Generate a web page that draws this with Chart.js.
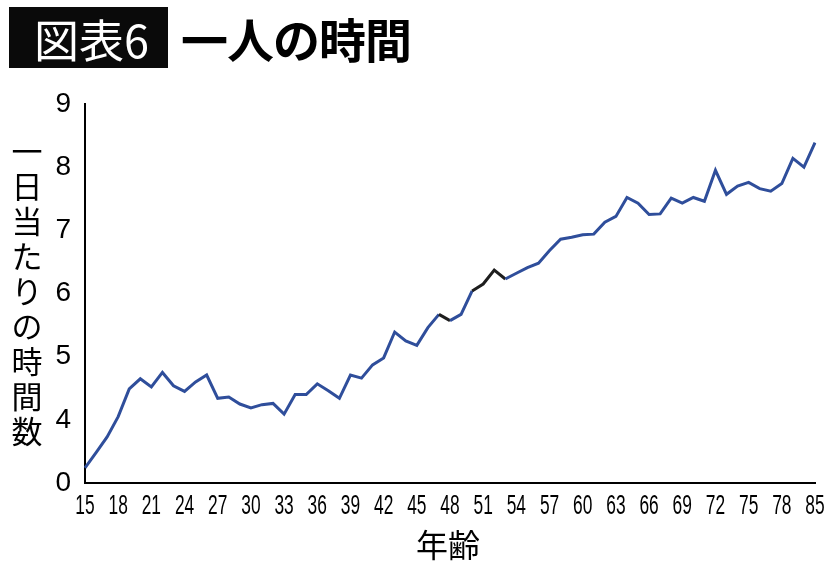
<!DOCTYPE html>
<html>
<head>
<meta charset="utf-8">
<script src="https://cdn.jsdelivr.net/npm/chart.js@4/dist/chart.umd.min.js"></script>
<style>
  html, body { margin: 0; padding: 0; background: #fff; }
  #wrap { position: relative; width: 836px; height: 564px; overflow: hidden; }
  canvas { position: absolute; left: 0; top: 0; }
  .lbl { position: absolute; font-family: "Noto Sans CJK JP", sans-serif; color: #000; white-space: nowrap; }
  #badge { left: 9px; top: 7px; width: 159px; height: 61px; background: #0a0a0a; color: #fff;
           font-size: 45px; line-height: 63px; text-align: left; padding-left: 25px; box-sizing: border-box; }
  #title { left: 181px; top: 7px; font-size: 47px; font-weight: 700; line-height: 61px; letter-spacing: -1px; }
  #ytitle { left: 9px; top: 132px; width: 36px; font-size: 31px; line-height: 35px; text-align: center; }
  #xtitle { left: 416px; top: 524px; font-size: 32px; line-height: 38px; }
</style>
</head>
<body>
<div id="wrap">
  <canvas id="c" width="836" height="564"></canvas>
  <div class="lbl" id="badge">図表6</div>
  <div class="lbl" id="title">一人の時間</div>
  <div class="lbl" id="ytitle">一<br>日<br>当<br>た<br>り<br>の<br>時<br>間<br>数</div>
  <div class="lbl" id="xtitle">年齢</div>
</div>
<script>
// Age categories (last bucket labelled 85 as in the source)
const ages = [15,16,17,18,19,20,21,22,23,24,25,26,27,28,29,30,31,32,33,34,35,36,37,38,39,40,
              41,42,43,44,45,46,47,48,49,50,51,52,53,54,55,56,57,58,59,60,61,62,63,64,65,66,
              67,68,69,70,71,72,73,74,75,76,77,78,79,80,85];
// Hours per day alone (axis is broken below 4)
const hours = [3.24,3.48,3.73,4.05,4.49,4.65,4.52,4.75,4.54,4.45,4.60,4.71,4.34,4.36,4.25,4.19,
               4.24,4.26,4.09,4.40,4.40,4.57,4.46,4.34,4.71,4.66,4.87,4.98,5.39,5.25,5.18,5.46,
               5.67,5.57,5.67,6.04,6.15,6.37,6.23,6.32,6.41,6.48,6.68,6.86,6.89,6.93,6.94,7.13,
               7.22,7.52,7.43,7.25,7.26,7.51,7.43,7.52,7.46,7.95,7.57,7.70,7.76,7.66,7.62,7.74,
               8.14,8.00,8.39];
// Y tick values and their printed labels (axis break: bottom tick printed as 0)
const yTickValues = [3,4,5,6,7,8,9];
const yTickLabels = ['0','4','5','6','7','8','9'];
const xTickEvery = 3;

const BLUE = '#2f4e9b';
const DARK = '#1e1e1e';
const darkSegmentStarts = [32, 35, 36, 37];

// Condensed x tick labels, placed by the category scale
const condensedXTicks = {
  id: 'condensedXTicks',
  afterDraw(chart) {
    const xs = chart.scales.x;
    const ctx = chart.ctx;
    ctx.save();
    ctx.font = '28px "Liberation Sans", Arial, sans-serif';
    ctx.fillStyle = '#000';
    ctx.textAlign = 'center';
    ctx.textBaseline = 'middle';
    ages.forEach((a, i) => {
      if (i % xTickEvery !== 0) return;
      const px = xs.getPixelForTick(i);
      ctx.save();
      ctx.translate(px, xs.top + 23);
      ctx.scale(0.62, 1);
      ctx.fillText(String(a), 0, 0);
      ctx.restore();
    });
    ctx.restore();
  }
};

new Chart(document.getElementById('c'), {
  type: 'line',
  data: {
    labels: ages,
    datasets: [{
      data: hours,
      borderColor: BLUE,
      borderWidth: 3,
      pointRadius: 0,
      tension: 0,
      fill: false,
      segment: {
        borderColor: ctx => darkSegmentStarts.includes(ctx.p0DataIndex) ? DARK : BLUE
      }
    }]
  },
  plugins: [condensedXTicks],
  options: {
    responsive: false,
    animation: false,
    devicePixelRatio: 1,
    layout: { padding: { top: 104, right: 21, left: 0, bottom: 0 } },
    plugins: { legend: { display: false }, tooltip: { enabled: false } },
    scales: {
      x: {
        type: 'category',
        offset: false,
        grid: { display: false },
        border: { display: true, color: '#000', width: 2 },
        ticks: { display: false, autoSkip: false, maxRotation: 0 },
        afterFit: s => { s.height = 81; }
      },
      y: {
        min: 3,
        max: 9,
        grid: { display: false },
        border: { display: true, color: '#000', width: 2 },
        afterBuildTicks: s => { s.ticks = yTickValues.map(v => ({ value: v })); },
        ticks: {
          padding: 6,
          color: '#000',
          font: { family: '"Liberation Sans", Arial, sans-serif', size: 28 },
          callback: v => yTickLabels[yTickValues.indexOf(v)]
        },
        afterFit: s => { s.width = 85; }
      }
    }
  }
});
</script>
</body>
</html>
